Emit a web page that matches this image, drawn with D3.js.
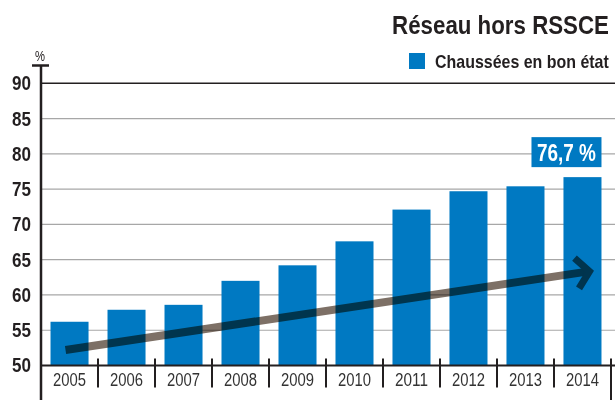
<!DOCTYPE html>
<html>
<head>
<meta charset="utf-8">
<script src="https://cdn.jsdelivr.net/npm/d3@7"></script>
<style>
  body { margin: 0; background: #fff; }
  svg { display: block; font-family: "Liberation Sans", Arial, sans-serif; }
</style>
</head>
<body>
<svg id="chart" width="615" height="400"></svg>
<script>
// data
var years = ["2005", "2006", "2007", "2008", "2009", "2010", "2011", "2012", "2013", "2014"];
var goodShare = [56.2, 57.9, 58.6, 62.0, 64.2, 67.6, 72.1, 74.7, 75.4, 76.7];
var yTicks = [50, 55, 60, 65, 70, 75, 80, 85, 90];
var trendYears = ["2005", "2014"];
var trendValues = [52.2, 63.35];
var lastLabel = "76,7 %";

var blue = "#0079c2";
var ink = "#231f20";
var svg = d3.select("#chart");

var x = d3.scaleBand().domain(years).range([41, 611]).paddingInner(0.333).paddingOuter(0.167);
var y = d3.scaleLinear().domain([50, 90]).range([365.5, 83.3]);
var step = x.step();

// condensed look: squeeze each text horizontally round its anchor to the reference width
function narrow(sel, w) {
    sel.each(function () {
        var t = d3.select(this);
        var ax = +t.attr("x");
        var s = w / this.getComputedTextLength();
        t.attr("transform", "translate(" + ax + ",0) scale(" + s + ",1) translate(" + (-ax) + ",0)");
    });
    return sel;
}

// title + legend
narrow(svg.append("text")
    .attr("x", 609).attr("y", 34)
    .attr("text-anchor", "end")
    .attr("font-size", 26).attr("font-weight", "bold").attr("fill", ink)
    .text("Réseau hors RSSCE"), 217);

svg.append("rect")
    .attr("x", 409).attr("y", 53).attr("width", 16).attr("height", 16)
    .attr("fill", blue);
narrow(svg.append("text")
    .attr("x", 435).attr("y", 68)
    .attr("font-size", 18).attr("font-weight", "bold").attr("fill", ink)
    .text("Chaussées en bon état"), 174);

// grid lines
svg.selectAll(".grid")
    .data(yTicks.filter(function (d) { return d > 50; }))
    .enter().append("line")
    .attr("class", "grid")
    .attr("x1", 41).attr("x2", 615)
    .attr("y1", function (d) { return y(d); })
    .attr("y2", function (d) { return y(d); })
    .attr("stroke", function (d) { return d == 90 ? ink : "#a7a7a7"; })
    .attr("stroke-width", function (d) { return d == 90 ? 1.6 : 1.2; });

// y labels
narrow(svg.selectAll(".ylab")
    .data(yTicks)
    .enter().append("text")
    .attr("class", "ylab")
    .attr("x", 31)
    .attr("y", function (d) { return y(d) + 7; })
    .attr("text-anchor", "end")
    .attr("font-size", 20).attr("font-weight", "bold").attr("fill", ink)
    .text(function (d) { return d; }), 19);

narrow(svg.append("text")
    .attr("x", 40).attr("y", 61)
    .attr("text-anchor", "middle")
    .attr("font-size", 14).attr("fill", ink)
    .text("%"), 10);

// bars
svg.selectAll(".bar")
    .data(years)
    .enter().append("rect")
    .attr("class", "bar")
    .attr("x", function (d) { return x(d); })
    .attr("width", x.bandwidth())
    .attr("y", function (d, i) { return y(goodShare[i]); })
    .attr("height", function (d, i) { return y(50) - y(goodShare[i]); })
    .attr("fill", blue);

// trend arrow (multiply gives grey on white, navy on blue)
var x0 = x(trendYears[0]) + x.bandwidth() / 2 - 4;
var x1 = x(trendYears[1]) + x.bandwidth() / 2 + 7;
var ya = y(trendValues[0]), yb = y(trendValues[1]);
var ang = Math.atan2(yb - ya, x1 - x0);
svg.append("line")
    .attr("x1", x0).attr("y1", ya)
    .attr("x2", x1 - 4 * Math.cos(ang)).attr("y2", yb - 4 * Math.sin(ang))
    .attr("stroke", "#7d7066").attr("stroke-width", 8)
    .style("mix-blend-mode", "multiply");
var head = 20, spread = Math.PI / 3.6;
svg.append("path")
    .attr("d", "M" + (x1 - head * Math.cos(ang - spread)) + "," + (yb - head * Math.sin(ang - spread)) +
        "L" + x1 + "," + yb +
        "L" + (x1 - head * Math.cos(ang + spread)) + "," + (yb - head * Math.sin(ang + spread)))
    .attr("fill", "none")
    .attr("stroke", "#00354f").attr("stroke-width", 7)
    .attr("stroke-linejoin", "miter");

// value box over 2014
var lastX = x(years[years.length - 1]) + x.bandwidth();
var lastY = y(goodShare[goodShare.length - 1]);
svg.append("rect")
    .attr("x", lastX - 70).attr("y", lastY - 40)
    .attr("width", 70).attr("height", 30)
    .attr("fill", blue);
narrow(svg.append("text")
    .attr("x", lastX - 35).attr("y", lastY - 16)
    .attr("text-anchor", "middle")
    .attr("font-size", 23).attr("font-weight", "bold").attr("fill", "#fff")
    .text(lastLabel), 59);

// x axis
svg.append("line")
    .attr("x1", 41).attr("x2", 615)
    .attr("y1", y(50)).attr("y2", y(50))
    .attr("stroke", ink).attr("stroke-width", 2.2);

svg.selectAll(".xtick")
    .data(years.slice(1))
    .enter().append("line")
    .attr("class", "xtick")
    .attr("x1", function (d) { return x(d) - step * x.paddingInner() / 2; })
    .attr("x2", function (d) { return x(d) - step * x.paddingInner() / 2; })
    .attr("y1", y(50) - 7).attr("y2", y(50) + 22)
    .attr("stroke", ink).attr("stroke-width", 2);

svg.append("line")
    .attr("x1", 611).attr("x2", 611)
    .attr("y1", y(50) - 7).attr("y2", 400)
    .attr("stroke", ink).attr("stroke-width", 2);

narrow(svg.selectAll(".xlab")
    .data(years)
    .enter().append("text")
    .attr("class", "xlab")
    .attr("x", function (d) { return x(d) + x.bandwidth() / 2; })
    .attr("y", y(50) + 21)
    .attr("text-anchor", "middle")
    .attr("font-size", 18).attr("fill", "#333")
    .text(function (d) { return d; }), 33);

// y axis line with cap
svg.append("line")
    .attr("x1", 41).attr("x2", 41)
    .attr("y1", 65).attr("y2", 400)
    .attr("stroke", ink).attr("stroke-width", 2.5);
svg.append("line")
    .attr("x1", 32).attr("x2", 49)
    .attr("y1", 65.5).attr("y2", 65.5)
    .attr("stroke", ink).attr("stroke-width", 2.5);
</script>
</body>
</html>
